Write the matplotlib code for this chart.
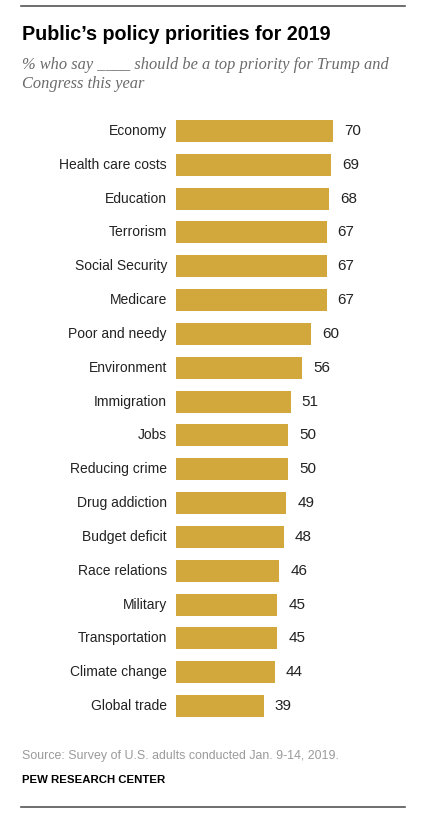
import matplotlib
matplotlib.use("Agg")
import matplotlib.pyplot as plt
from matplotlib.lines import Line2D

categories = ["Economy", "Health care costs", "Education", "Terrorism", "Social Security",
              "Medicare", "Poor and needy", "Environment", "Immigration", "Jobs",
              "Reducing crime", "Drug addiction", "Budget deficit", "Race relations",
              "Military", "Transportation", "Climate change", "Global trade"]
values = [70, 69, 68, 67, 67, 67, 60, 56, 51, 50, 50, 49, 48, 46, 45, 45, 44, 39]

W, H = 427, 826
fig = plt.figure(figsize=(W / 100, H / 100), dpi=100)
fig.patch.set_facecolor("white")

x0 = 176
px_per_unit = (333.5 - 176) / 70
xmax = 100
ax_w = xmax * px_per_unit
row = (706 - 131) / 17
top = 131 - row / 2
bottom = 706 + row / 2
ax = fig.add_axes([x0 / W, 1 - bottom / H, ax_w / W, (bottom - top) / H])
n = len(categories)
ypos = list(range(n))
ax.barh(ypos, values, height=22 / row, color="#D2A73C", edgecolor="none")
ax.set_xlim(0, xmax)
ax.set_ylim(n - 0.5, -0.5)
ax.axis("off")
for i, (c, v) in enumerate(zip(categories, values)):
    ax.text(-9 / px_per_unit, i, c, ha="right", va="center", fontsize=10, color="#222222",
            family="Liberation Sans")
    ax.text(v + 11 / px_per_unit, i, str(v), ha="left", va="center", fontsize=11,
            color="#222222", family="Liberation Sans")

def fx(x):
    return x / W

def fy(y):
    return 1 - y / H

fig.add_artist(Line2D([fx(21), fx(405)], [fy(6), fy(6)], color="#555555", lw=1.2))
fig.add_artist(Line2D([fx(21), fx(405)], [fy(807), fy(807)], color="#555555", lw=1.2))

fig.text(fx(22), fy(34), "Public\u2019s policy priorities for 2019", fontsize=14.2,
         fontweight="bold", color="#000000", va="center", ha="left", family="Liberation Sans")
fig.text(fx(22), fy(65), "% who say ____ should be a top priority for Trump and",
         fontsize=11.8, style="italic", color="#6b6b6b", va="center", ha="left",
         family="Liberation Serif")
fig.text(fx(22), fy(84), "Congress this year", fontsize=11.8, style="italic",
         color="#6b6b6b", va="center", ha="left", family="Liberation Serif")

fig.text(fx(22), fy(756), "Source: Survey of U.S. adults conducted Jan. 9-14, 2019.",
         fontsize=8.9, color="#9a9a9a", va="center", ha="left", family="Liberation Sans")
fig.text(fx(22), fy(780), "PEW RESEARCH CENTER", fontsize=8.2, fontweight="bold",
         color="#000000", va="center", ha="left", family="Liberation Sans")

fig.savefig("out.png", dpi=100, facecolor="white")
